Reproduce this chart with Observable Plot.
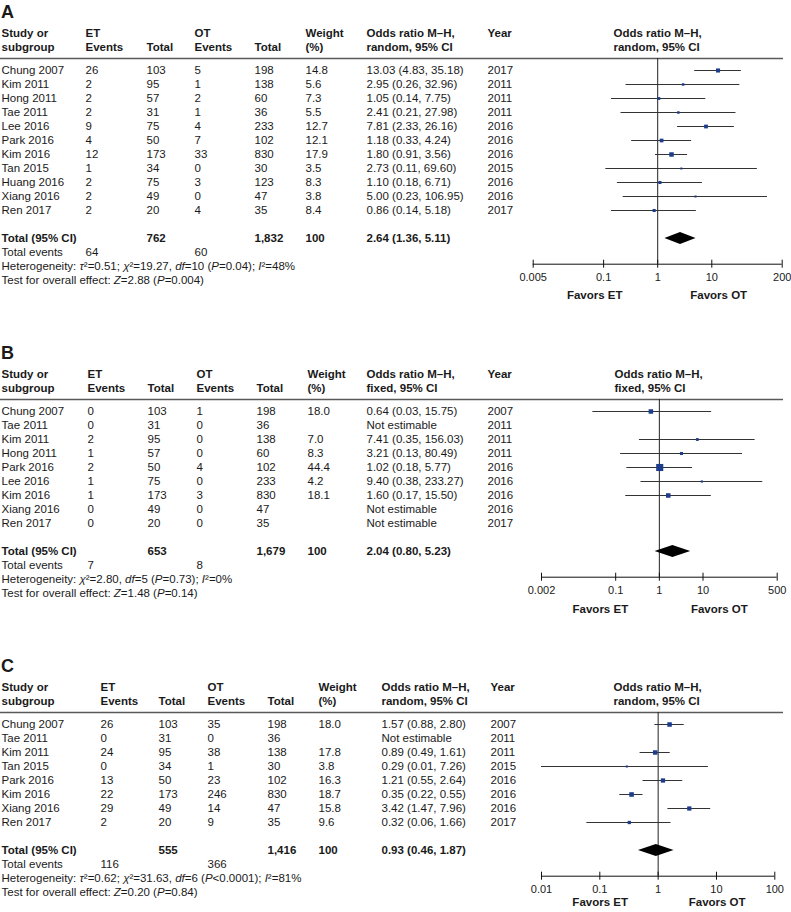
<!DOCTYPE html>
<html><head><meta charset="utf-8">
<script src="https://cdn.jsdelivr.net/npm/d3@7"></script>
<script src="https://cdn.jsdelivr.net/npm/@observablehq/plot@0.6"></script>
<style>
body{margin:0;background:#fff;}
#chart{width:791px;height:912px;position:relative;overflow:hidden;background:#fff}
#chart svg{display:block;overflow:visible}
</style></head><body><div id="chart"></div>
<script>
// ---------------- Panel A data ----------------
const studiesA = ["Chung 2007","Kim 2011","Hong 2011","Tae 2011","Lee 2016","Park 2016","Kim 2016","Tan 2015","Huang 2016","Xiang 2016","Ren 2017"];
const etEventsA = [26,2,2,2,9,4,12,1,2,2,2];
const etTotalA = [103,95,57,31,75,50,173,34,75,49,20];
const otEventsA = [5,1,2,1,4,7,33,0,3,0,4];
const otTotalA = [198,138,60,36,233,102,830,30,123,47,35];
const weightA = [14.8,5.6,7.3,5.5,12.7,12.1,17.9,3.5,8.3,3.8,8.4];
const orA = [13.03,2.95,1.05,2.41,7.81,1.18,1.80,2.73,1.10,5.00,0.86];
const loA = [4.83,0.26,0.14,0.21,2.33,0.33,0.91,0.11,0.18,0.23,0.14];
const hiA = [35.18,32.96,7.75,27.98,26.16,4.24,3.56,69.60,6.71,106.95,5.18];
const yearA = [2017,2011,2011,2011,2016,2016,2016,2015,2016,2016,2017];
const totalsA = [762,1832,100];
const pooledA = [2.64,1.36,5.11];
const eventsA = [64,60];
const hetA = "Heterogeneity: τ²=0.51; χ²=19.27, df=10 (P=0.04); I²=48%";
const testA = "Test for overall effect: Z=2.88 (P=0.004)";
const ticksA = [0.005,0.1,1,10,200];

// ---------------- Panel B data ----------------
const studiesB = ["Chung 2007","Tae 2011","Kim 2011","Hong 2011","Park 2016","Lee 2016","Kim 2016","Xiang 2016","Ren 2017"];
const etEventsB = [0,0,2,1,2,1,1,0,0];
const etTotalB = [103,31,95,57,50,75,173,49,20];
const otEventsB = [1,0,0,0,4,0,3,0,0];
const otTotalB = [198,36,138,60,102,233,830,47,35];
const weightB = [18.0,null,7.0,8.3,44.4,4.2,18.1,null,null];
const orB = [0.64,null,7.41,3.21,1.02,9.40,1.60,null,null];
const loB = [0.03,null,0.35,0.13,0.18,0.38,0.17,null,null];
const hiB = [15.75,null,156.03,80.49,5.77,233.27,15.50,null,null];
const yearB = [2007,2011,2011,2011,2016,2016,2016,2016,2017];
const totalsB = [653,1679,100];
const pooledB = [2.04,0.80,5.23];
const eventsB = [7,8];
const hetB = "Heterogeneity: χ²=2.80, df=5 (P=0.73); I²=0%";
const testB = "Test for overall effect: Z=1.48 (P=0.14)";
const ticksB = [0.002,0.1,1,10,500];

// ---------------- Panel C data ----------------
const studiesC = ["Chung 2007","Tae 2011","Kim 2011","Tan 2015","Park 2016","Kim 2016","Xiang 2016","Ren 2017"];
const etEventsC = [26,0,24,0,13,22,29,2];
const etTotalC = [103,31,95,34,50,173,49,20];
const otEventsC = [35,0,38,1,23,246,14,9];
const otTotalC = [198,36,138,30,102,830,47,35];
const weightC = [18.0,null,17.8,3.8,16.3,18.7,15.8,9.6];
const orC = [1.57,null,0.89,0.29,1.21,0.35,3.42,0.32];
const loC = [0.88,null,0.49,0.01,0.55,0.22,1.47,0.06];
const hiC = [2.80,null,1.61,7.26,2.64,0.55,7.96,1.66];
const yearC = [2007,2011,2011,2015,2016,2016,2016,2017];
const totalsC = [555,1416,100];
const pooledC = [0.93,0.46,1.87];
const eventsC = [116,366];
const hetC = "Heterogeneity: τ²=0.62; χ²=31.63, df=6 (P<0.0001); I²=81%";
const testC = "Test for overall effect: Z=0.20 (P=0.84)";
const ticksC = [0.01,0.1,1,10,100];

// ---------------- Labels ----------------
const panelLabels = ["A","B","C"];
const methods = ["random","fixed","random"];
const headerLine1 = ["Study or","ET","","OT","","Weight","Odds ratio M–H,","Year"];
const headerLine2 = ["subgroup","Events","Total","Events","Total","(%)","{m}, 95% CI",""];
const forestHeader = ["Odds ratio M–H,","{m}, 95% CI"];
const favorsLabels = ["Favors ET","Favors OT"];
const totalLabel = "Total (95% CI)";
const eventsLabel = "Total events";
const notEstimable = "Not estimable";

const panels = [
  {label: panelLabels[0], method: methods[0], studies: studiesA, etE: etEventsA, etT: etTotalA, otE: otEventsA, otT: otTotalA, weight: weightA, or: orA, lo: loA, hi: hiA, year: yearA, totals: totalsA, pooled: pooledA, events: eventsA, het: hetA, test: testA, ticks: ticksA},
  {label: panelLabels[1], method: methods[1], studies: studiesB, etE: etEventsB, etT: etTotalB, otE: otEventsB, otT: otTotalB, weight: weightB, or: orB, lo: loB, hi: hiB, year: yearB, totals: totalsB, pooled: pooledB, events: eventsB, het: hetB, test: testB, ticks: ticksB},
  {label: panelLabels[2], method: methods[2], studies: studiesC, etE: etEventsC, etT: etTotalC, otE: otEventsC, otT: otTotalC, weight: weightC, or: orC, lo: loC, hi: hiC, year: yearC, totals: totalsC, pooled: pooledC, events: eventsC, het: hetC, test: testC, ticks: ticksC}
];

// ---------------- Layout (positions/styles) ----------------
const W = 791;
const FONT = "'Liberation Sans', Arial, Helvetica, sans-serif";
const TEXT = "#1a1a1a";
const FS = 11.5;
const layouts = [
  {height: 320, mt: 66.7, ml: 532.7, mr: 9.3, step: 14.4, cols: [1,85,146,194,254,305,366,487], forestX: 613, favorsDy: 1, favorsDx: [-63, 61]},
  {height: 310, mt: 88.3, ml: 541, mr: 14.3, step: 14.4, cols: [1,87,147,196,256,307,366,487], forestX: 614, favorsDy: 2, favorsDx: [-59, 60]},
  {height: 282, mt: 91.7, ml: 541, mr: 16.7, step: 14.4, cols: [1,100,158,207,267,318,381,490], forestX: 613, favorsDy: -4, favorsDx: [-58, 59]}
];
const RULE_RIGHT = 783;

const f2 = d3.format(".2f"), f1 = d3.format(".1f"), fc = d3.format(",");
const keys = ["study","etE","etT","otE","otT","w","orText","year"];

function buildPanel(p, L) {
  const tableRows = p.studies.map((s, i) => ({
    row: s, bold: false,
    study: s, etE: String(p.etE[i]), etT: String(p.etT[i]), otE: String(p.otE[i]), otT: String(p.otT[i]),
    w: p.weight[i] == null ? "" : f1(p.weight[i]),
    orText: p.or[i] == null ? notEstimable : `${f2(p.or[i])} (${f2(p.lo[i])}, ${f2(p.hi[i])})`,
    year: String(p.year[i]),
    or: p.or[i], lo: p.lo[i], hi: p.hi[i], weight: p.weight[i]
  }));
  tableRows.push({row: "total", bold: true, study: totalLabel, etE: "", etT: fc(p.totals[0]), otE: "", otT: fc(p.totals[1]), w: String(p.totals[2]),
    orText: `${f2(p.pooled[0])} (${f2(p.pooled[1])}, ${f2(p.pooled[2])})`, year: ""});
  tableRows.push({row: "events", bold: false, study: eventsLabel, etE: String(p.events[0]), etT: "", otE: String(p.events[1]), otT: "", w: "", orText: "", year: ""});
  tableRows.push({row: "het", bold: false, study: p.het, etE: "", etT: "", otE: "", otT: "", w: "", orText: "", year: ""});
  tableRows.push({row: "test", bold: false, study: p.test, etE: "", etT: "", otE: "", otT: "", w: "", orText: "", year: ""});

  const domain = [...p.studies, "gap", "total", "events", "het", "test", "favors"];
  const n = domain.length;
  const mb = L.height - L.mt - (n - 1) * L.step;
  const first = p.studies[0];
  const dxOf = (x) => x - L.ml;
  const txt = {fontSize: FS, fill: TEXT, frameAnchor: "left", textAnchor: "start"};
  const marks = [];

  // panel letter
  marks.push(Plot.text([p.label], {...txt, y: () => first, text: d => d, dx: dxOf(0.5), dy: -58, fontSize: 18, fontWeight: "bold"}));
  // column headers
  L.cols.forEach((cx, j) => {
    const h1 = headerLine1[j], h2 = headerLine2[j].replace("{m}", p.method);
    if (h1) marks.push(Plot.text([h1], {...txt, y: () => first, text: d => d, dx: dxOf(cx), dy: -37, fontWeight: "bold"}));
    if (h2) marks.push(Plot.text([h2], {...txt, y: () => first, text: d => d, dx: dxOf(cx), dy: -23, fontWeight: "bold"}));
  });
  marks.push(Plot.text([forestHeader[0]], {...txt, y: () => first, text: d => d, dx: dxOf(L.forestX), dy: -37, fontWeight: "bold"}));
  marks.push(Plot.text([forestHeader[1].replace("{m}", p.method)], {...txt, y: () => first, text: d => d, dx: dxOf(L.forestX), dy: -23, fontWeight: "bold"}));
  // header rule
  marks.push(Plot.ruleY([first], {y: d => d, dy: -12, insetLeft: -L.ml, insetRight: (W - L.mr) - RULE_RIGHT, stroke: "#5a5a5a", strokeWidth: 1.4}));
  // table cells
  keys.forEach((k, j) => {
    marks.push(Plot.text(tableRows.filter(r => r[k] !== "" && !r.bold), {...txt, y: "row", text: k, dx: dxOf(L.cols[j])}));
    marks.push(Plot.text(tableRows.filter(r => r[k] !== "" && r.bold), {...txt, y: "row", text: k, dx: dxOf(L.cols[j]), fontWeight: "bold"}));
  });

  // forest: line of no effect
  marks.push(Plot.ruleX([1], {x: d => d, y1: () => first, y2: () => "het", insetTop: -12, insetBottom: 2.3, stroke: "#222", strokeWidth: 1}));
  // axis
  const ticks = p.ticks;
  marks.push(Plot.ruleY(["het"], {y: d => d, x1: ticks[0], x2: ticks[ticks.length - 1], dy: -2.3, stroke: "#111", strokeWidth: 1}));
  marks.push(Plot.ruleX(ticks, {x: d => d, y1: () => "het", y2: () => "het", insetTop: -4, insetBottom: -4, dy: -2.3, stroke: "#111", strokeWidth: 1}));
  marks.push(Plot.text(ticks, {x: d => d, y: () => "het", text: d => String(d), dy: 11, fontSize: 11, fill: TEXT, textAnchor: "middle"}));
  // CI lines and squares
  const est = tableRows.filter(r => r.or != null && r.row !== "total");
  marks.push(Plot.ruleY(est, {y: "row", x1: "lo", x2: "hi", stroke: "#333", strokeWidth: 1}));
  marks.push(Plot.dot(est, {x: "or", y: "row", r: "weight", symbol: "square", fill: "#1d3c8c", stroke: "none"}));
  // pooled diamond
  const pooled = {row: "total", or: p.pooled[0], lo: p.pooled[1], hi: p.pooled[2]};
  marks.push((index, scales) => {
    const x = scales.x, y = scales.y;
    const cy = y(pooled.row), h = 6;
    const g = d3.create("svg:g");
    g.append("path")
      .attr("d", `M${x(pooled.lo)},${cy}L${x(pooled.or)},${cy - h}L${x(pooled.hi)},${cy}L${x(pooled.or)},${cy + h}Z`)
      .attr("fill", "#000");
    return g.node();
  });
  // favors labels
  marks.push(Plot.text([favorsLabels[0]], {x: () => 1, y: () => "favors", text: d => d, dx: L.favorsDx[0], dy: L.favorsDy, fontSize: FS, fontWeight: "bold", fill: TEXT, textAnchor: "middle"}));
  marks.push(Plot.text([favorsLabels[1]], {x: () => 1, y: () => "favors", text: d => d, dx: L.favorsDx[1], dy: L.favorsDy, fontSize: FS, fontWeight: "bold", fill: TEXT, textAnchor: "middle"}));

  const svg = Plot.plot({
    width: W, height: L.height,
    marginTop: L.mt, marginBottom: mb, marginLeft: L.ml, marginRight: L.mr,
    style: {fontFamily: FONT, fontSize: FS + "px", color: TEXT, background: "white", overflow: "visible"},
    x: {type: "log", domain: [ticks[0], ticks[ticks.length - 1]], axis: null},
    y: {type: "point", domain, padding: 0, axis: null},
    r: {type: "sqrt", domain: [0, 100], range: [0, 6]},
    marks
  });
  italicizeStats(svg);
  return svg;
}

function italicizeStats(svg) {
  const NS = "http://www.w3.org/2000/svg";
  svg.querySelectorAll("text").forEach(t => {
    const s = t.textContent;
    if (!/^(Heterogeneity|Test for overall)/.test(s)) return;
    const parts = s.split(/(τ|χ|df|P(?=[=<])|I(?=²)|Z(?==))/);
    while (t.firstChild) t.removeChild(t.firstChild);
    parts.forEach(part => {
      if (!part) return;
      const ts = document.createElementNS(NS, "tspan");
      ts.textContent = part;
      if (/^(τ|χ|df|P|I|Z)$/.test(part)) ts.setAttribute("font-style", "italic");
      t.appendChild(ts);
    });
  });
}

const chart = document.getElementById("chart");
panels.forEach((p, i) => chart.appendChild(buildPanel(p, layouts[i])));
</script></body></html>
